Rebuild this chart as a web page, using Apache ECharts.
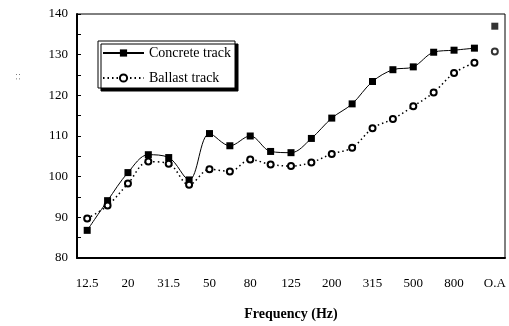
<!DOCTYPE html>
<html><head><meta charset="utf-8">
<script src="https://cdn.jsdelivr.net/npm/echarts@6/dist/echarts.min.js"></script>
<style>html,body{margin:0;padding:0;background:#fff}#c{width:509px;height:326px}</style>
</head><body><div id="c"></div>
<script>
const categories = ['12.5','16','20','25','31.5','40','50','63','80','100','125','160','200','250','315','400','500','630','800','1000','O.A'];
const concrete = [86.8, 94.1, 101.0, 105.4, 104.7, 99.2, 110.6, 107.6, 110.0, 106.2, 105.9, 109.4, 114.4, 117.9, 123.4, 126.3, 127.0, 130.6, 131.1, 131.6];
const ballast  = [89.7, 92.9, 98.3, 103.7, 103.2, 98.0, 101.8, 101.3, 104.2, 103.0, 102.6, 103.5, 105.6, 107.1, 111.9, 114.2, 117.3, 120.7, 125.5, 128.0];
const concreteOA = 137.0;
const ballastOA = 130.8;
const yTicks = [80, 90, 100, 110, 120, 130, 140];

const FONT = 'Liberation Serif';
const chart = echarts.init(document.getElementById('c'), null, {renderer:'canvas'});
const oaIndex = categories.length - 1;
chart.setOption({
  animation: false,
  textStyle: {fontFamily: FONT, color: '#000'},
  grid: {left: 77, right: 4, top: 14, bottom: 67.5, show: true, borderColor: '#000', borderWidth: 1},
  graphic: [{
    type: 'text', x: 14, y: 80, rotation: Math.PI / 2, originX: 0, originY: 0,
    style: {text: ': :', fontFamily: FONT, fontSize: 8, fill: '#444'}
  }],
  legend: {
    orient: 'vertical', left: 98, top: 41,
    data: ['Concrete track', 'Ballast track'],
    itemWidth: 41, itemHeight: 9, itemGap: 11,
    padding: [5, 4, 3, 4],
    backgroundColor: '#fff', borderColor: '#000', borderWidth: 1,
    shadowColor: '#000', shadowBlur: 0, shadowOffsetX: 3, shadowOffsetY: 3,
    textStyle: {fontFamily: FONT, fontSize: 14, color: '#000'}
  },
  xAxis: {
    type: 'category', data: categories, boundaryGap: true,
    name: 'Frequency (Hz)', nameLocation: 'middle', nameGap: 49,
    nameTextStyle: {fontFamily: FONT, fontSize: 14, fontWeight: 'bold', color: '#000'},
    axisLine: {lineStyle: {color: '#000', width: 2}},
    axisTick: {inside: true, length: 5, interval: 0, lineStyle: {color: '#000'}},
    axisLabel: {interval: 1, margin: 19, fontFamily: FONT, fontSize: 13, color: '#000'},
    splitLine: {show: false}
  },
  yAxis: {
    type: 'value', min: 80, max: 140, interval: 5,
    axisLine: {show: true, lineStyle: {color: '#000', width: 2}},
    axisTick: {show: true, inside: true, length: 4, lineStyle: {color: '#000'}},
    axisLabel: {margin: 9, fontFamily: FONT, fontSize: 13, color: '#000',
      formatter: v => yTicks.includes(v) ? String(v) : ''},
    splitLine: {show: false}
  },
  series: [
    {name: 'Concrete track', type: 'line', data: concrete, smooth: 0.35,
     symbol: 'rect', symbolSize: 7,
     itemStyle: {color: '#000'}, lineStyle: {color: '#000', width: 1}},
    {name: 'Ballast track', type: 'line', data: ballast, smooth: 0.35,
     symbol: 'emptyCircle', symbolSize: 6,
     itemStyle: {color: '#000', borderColor: '#000', borderWidth: 1},
     lineStyle: {color: '#000', width: 1.5, type: [1.5, 3]}},
    {name: 'ConcreteOA', type: 'scatter', data: [[oaIndex, concreteOA]], symbol: 'rect', symbolSize: 7,
     itemStyle: {color: '#000'}},
    {name: 'BallastOA', type: 'scatter', data: [[oaIndex, ballastOA]], symbol: 'emptyCircle', symbolSize: 6,
     itemStyle: {color: '#000', borderColor: '#000', borderWidth: 1}}
  ]
});
</script></body></html>
